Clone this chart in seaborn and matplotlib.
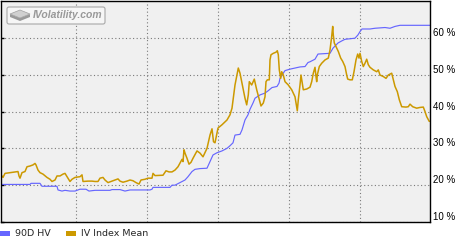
import matplotlib
matplotlib.use("Agg")
import matplotlib.pyplot as plt
import matplotlib.transforms as mtransforms
import seaborn as sns
import pandas as pd
from matplotlib.patches import Patch, FancyBboxPatch, Polygon

# ---------------- data ----------------
hv_day = [2, 30, 31, 40, 42, 57, 58, 62, 65, 70,
          75, 80, 86, 89, 95, 110, 112, 120, 125, 130,
          150, 152, 153, 170, 172, 175, 180, 185, 188, 192,
          195, 200, 207, 210, 213, 217, 222, 227, 230, 233,
          235, 240, 242, 245, 248, 250, 253, 255, 260, 265,
          268, 272, 277, 279, 280, 282, 285, 290, 295, 300,
          305, 308, 310, 315, 318, 330, 333, 338, 342, 345,
          355, 358, 360, 362, 370, 375, 385, 390, 395, 400,
          430]
hv_val = [20.2, 20.2, 20.5, 20.5, 19.7, 19.7, 18.7, 18.4, 18.6, 18.4,
          18.4, 18.9, 18.9, 18.4, 18.6, 18.6, 18.8, 18.8, 18.4, 18.7,
          18.7, 18.9, 19.4, 19.4, 20.0, 20.0, 20.7, 21.4, 22.3, 23.7,
          24.3, 24.5, 24.6, 26.4, 28.2, 28.8, 29.3, 30.0, 30.7, 31.5,
          33.6, 33.8, 35.0, 37.7, 39.1, 40.6, 42.3, 43.6, 44.5, 45.0,
          45.6, 46.5, 46.8, 47.7, 49.0, 49.9, 51.1, 51.5, 51.8, 52.1,
          52.2, 53.3, 53.5, 54.2, 55.6, 55.8, 57.2, 58.6, 59.2, 59.6,
          59.9, 60.8, 61.7, 62.4, 62.4, 62.6, 62.8, 62.6, 63.1, 63.4,
          63.4]

iv_day = [2, 3, 5, 10, 18, 19, 20, 22, 25, 27,
          30, 33, 35, 36, 38, 40, 43, 47, 50, 52,
          55, 57, 60, 63, 65, 68, 70, 72, 75, 80,
          82, 83, 88, 92, 95, 98, 100, 103, 105, 108,
          112, 115, 118, 120, 123, 127, 130, 133, 136, 139,
          141, 145, 148, 152, 153, 155, 163, 166, 169, 172,
          175, 178, 180, 182, 183, 184, 185, 187, 189, 191,
          193, 197, 200, 203, 207, 210, 212, 213.5, 215, 218,
          222, 227, 230, 232, 233.5, 235, 236.7, 238.3, 240, 241.7,
          243.3, 245, 246.7, 248.3, 249.3, 251.7, 254.3, 256.7, 259, 261,
          263.3, 265, 266, 267.3, 269.3, 270, 271, 273.3, 276, 277.3,
          278.3, 279.3, 280.7, 281.7, 283.3, 285, 288.3, 291.7, 295, 296.7,
          297.3, 298.3, 300, 301, 302.3, 303.3, 306.7, 310, 311.7, 313.3,
          315, 316, 316.7, 317.3, 319.3, 321.7, 325, 328.3, 330, 331.7,
          332.7, 333.3, 334.3, 336, 338.3, 340.7, 342.7, 345, 346.7, 347.7,
          350, 352.3, 354, 356, 357.7, 359, 360, 361.7, 363.3, 365,
          366.7, 368.3, 370, 373.3, 376.7, 378.3, 380, 383.3, 386, 388.3,
          391.7, 393.3, 395, 397.3, 399.3, 401.7, 406, 408.3, 410, 412.7,
          416.7, 420, 423.3, 425, 426.7, 429.3]
iv_val = [22.5, 22.1, 23.2, 23.4, 23.7, 22.5, 21.9, 23.4, 23.7, 25.0,
          25.2, 25.5, 25.9, 25.5, 24.1, 23.4, 23.0, 22.1, 21.6, 21.0,
          21.4, 22.5, 22.5, 23.0, 23.2, 21.9, 21.0, 21.6, 22.1, 22.3,
          22.8, 21.0, 21.1, 21.1, 21.0, 21.0, 21.9, 22.1, 21.4, 20.7,
          21.1, 21.4, 21.7, 21.1, 20.8, 21.1, 21.4, 21.2, 20.7, 20.3,
          21.4, 21.6, 21.9, 21.9, 23.2, 22.6, 22.7, 23.9, 23.6, 23.6,
          24.1, 25.0, 26.0, 27.0, 26.4, 29.6, 28.7, 27.3, 25.7, 26.2,
          27.3, 29.3, 28.7, 27.7, 30.0, 33.6, 35.3, 31.8, 31.5, 35.5,
          36.4, 37.7, 39.1, 40.9, 44.0, 47.2, 49.5, 51.8, 50.4, 48.1,
          45.9, 43.6, 41.8, 44.5, 48.1, 47.2, 48.8, 45.9, 43.6, 41.5,
          42.3, 44.0, 48.1, 48.6, 48.6, 54.0, 55.4, 55.8, 56.1, 56.5,
          55.4, 51.3, 49.0, 50.8, 49.9, 48.1, 47.2, 45.9, 44.0, 41.3,
          40.2, 43.2, 47.2, 49.9, 47.7, 45.9, 46.1, 46.6, 48.1, 50.4,
          52.0, 49.5, 48.1, 49.9, 52.2, 53.1, 54.0, 54.5, 56.7, 60.4,
          63.1, 60.8, 58.6, 57.6, 56.3, 54.5, 53.6, 52.2, 49.9, 48.8,
          48.6, 48.6, 50.8, 54.0, 55.6, 54.5, 55.8, 53.6, 52.2, 53.1,
          54.2, 52.7, 52.0, 51.3, 50.8, 51.3, 49.9, 49.5, 49.0, 49.9,
          50.4, 48.6, 46.8, 45.4, 43.2, 41.3, 41.2, 41.3, 42.0, 41.3,
          40.9, 41.1, 41.2, 40.0, 38.6, 37.3]

y_ticks = [10, 20, 30, 40, 50, 60]
y_tick_labels = ["10 %", "20 %", "30 %", "40 %", "50 %", "60 %"]
x_grid = [76, 147, 218, 289, 360]
series_names = ["90D HV", "IV Index Mean"]
series_colors = ["#6666FF", "#CC9900"]
watermark = "IVolatility.com"

assert len(hv_day) == len(hv_val)
assert len(iv_day) == len(iv_val)

# ---------------- style ----------------
sns.set_style("white")
plt.rcParams['font.family'] = ['Liberation Sans', 'DejaVu Sans']

fig = plt.figure(figsize=(4.7, 2.4), dpi=100)
fig.patch.set_facecolor('white')
ax = fig.add_axes([1 / 470, 18 / 240, 429 / 470, 221 / 240])
ax.set_facecolor('#F0F0F0')

hv = pd.DataFrame({'day': hv_day, 'value': hv_val})
iv = pd.DataFrame({'day': iv_day, 'value': iv_val})
sns.lineplot(data=hv, x='day', y='value', ax=ax, color=series_colors[0],
             linewidth=0.85, estimator=None, sort=False)
sns.lineplot(data=iv, x='day', y='value', ax=ax, color=series_colors[1],
             linewidth=1.1, estimator=None, sort=False)

ax.set_xlim(1, 430)
ax.set_ylim(10, 70)
ax.set_xticks(x_grid)
ax.set_yticks(y_ticks)
ax.set_yticklabels(y_tick_labels)
ax.set_xlabel('')
ax.set_ylabel('')
ax.set_axisbelow(True)
ax.grid(True, color='#7A7A7A', linestyle=(0, (1, 2.2)), linewidth=0.8)
ax.tick_params(axis='x', bottom=False, labelbottom=False)
ax.tick_params(axis='y', left=True, right=False, labelleft=False,
               labelright=True, direction='in', length=2, width=1,
               color='black', labelsize=7, pad=2.5, labelcolor='black')
for lbl in ax.get_yticklabels():
    lbl.set_va('bottom')
for s in ax.spines.values():
    s.set_visible(True)
    s.set_color('black')
    s.set_linewidth(1.0)

# ---------------- legend ----------------
handles = [Patch(facecolor=c, edgecolor='none') for c in series_colors]
fig.legend(handles, series_names, loc='center left',
           bbox_to_anchor=(0.0, 6 / 240), ncol=2, frameon=False,
           prop={'family': 'DejaVu Sans', 'size': 6.8},
           handlelength=1.05, handleheight=0.45, handletextpad=0.5,
           columnspacing=1.7, borderpad=0, borderaxespad=0)

# ---------------- watermark ----------------
H = 240
px = mtransforms.IdentityTransform()
box = FancyBboxPatch((7, H - 24), 98, 17,
                     boxstyle='round,pad=0,rounding_size=2',
                     facecolor='#F6F6F6', edgecolor='#A8A8A8',
                     linewidth=0.8, transform=px, zorder=5)
fig.patches.append(box)
top = Polygon([(10, H - 14), (20, H - 10), (30, H - 14), (20, H - 18)],
              closed=True, facecolor='#D0D0D0', edgecolor='#A0A0A0',
              linewidth=0.5, transform=px, zorder=6)
side = Polygon([(10, H - 14), (20, H - 18), (30, H - 14), (30, H - 17),
                (20, H - 21), (10, H - 17)],
               closed=True, facecolor='#9A9A9A', edgecolor='none',
               transform=px, zorder=6)
fig.patches.append(side)
fig.patches.append(top)
fig.text(33 / 470, 1 - 15.5 / 240, watermark, ha='left', va='center',
         fontsize=7.5, fontstyle='italic', fontweight='bold',
         color='#999999', zorder=7)

fig.savefig('out.png', dpi=100, facecolor='white')
